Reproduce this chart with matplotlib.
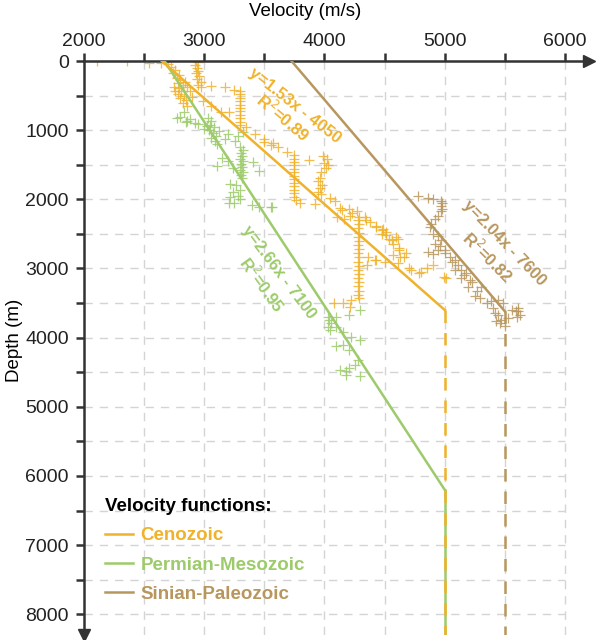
import numpy as np
import matplotlib.pyplot as plt

plt.rcParams['font.family'] = ['Liberation Sans', 'DejaVu Sans']

# colours of the three units
c_ceno = '#F0B22A'
c_perm = '#9DCB6B'
c_sini = '#B8975E'

# scatter data (velocity m/s, depth m)
ceno_v = [2110, 2360, 2540, 2640, 2700,
          2930, 2950, 2920, 2940, 2950, 2930, 2960, 2940, 2970, 2950, 2970,
          2720, 2760, 2740, 2790, 2770, 2800, 2780, 2820, 2790, 2810, 2780, 2830, 2800, 2850, 2820, 2860,
          2750, 2760, 2840, 2860, 2880, 2900,
          2990, 3060, 3060, 3170, 3250, 3140, 3210,
          3295, 3300, 3295, 3300, 3295, 3300, 3295, 3300, 3295, 3300, 3300,
          3350, 3420, 3500, 3570, 3500, 3555, 3610, 3690,
          3745, 3750, 3745, 3750, 3745, 3750, 3745, 3750, 3745, 3750, 3745, 3750, 3745, 3760, 3800,
          3870, 3990, 4020, 4000, 4030, 4010,
          3970, 3960, 3950, 3980, 3960, 3950, 3970, 3925,
          4050, 4090, 4130, 4200, 4270, 4210, 4290, 4340, 4380, 4430, 4490, 4480, 4540, 4570, 4610,
          4620, 4570, 4610, 4100, 4160, 4149, 4232, 4348, 4431, 4515, 4598,
          4280, 4285, 4280, 4285, 4280, 4285, 4280, 4285, 4280, 4285, 4280, 4285, 4280, 4285, 4280,
          4285, 4280, 4285, 4280, 4285,
          4360, 4420, 4500, 4430, 4350, 4630, 4680,
          4080, 4150, 4220, 4210,
          4481, 4515, 4565, 4623, 4665, 4706, 4806, 4997, 5014, 4720, 4790, 4850, 4900]
ceno_d = [0, 0, 30, 30, 50,
          0, 20, 60, 100, 140, 180, 220, 260, 300, 340, 380,
          90, 130, 170, 200, 240, 280, 320, 350, 390, 430, 470, 500, 540, 570, 610, 650,
          380, 440, 300, 380, 440, 520,
          580, 650, 360, 380, 420, 740, 740,
          430, 480, 530, 580, 630, 680, 730, 780, 830, 880, 930,
          960, 1050, 1130, 1180, 1170, 1214, 1238, 1310,
          1360, 1410, 1460, 1510, 1560, 1610, 1660, 1710, 1760, 1810, 1860, 1910, 1960, 2010, 2050,
          1430, 1380, 1420, 1470, 1500, 1550,
          1600, 1690, 1740, 1790, 1840, 1890, 1930, 2070,
          1980, 2030, 2120, 2140, 2170, 2240, 2260, 2260, 2330, 2380, 2430, 2500, 2570, 2640, 2570,
          2710, 2800, 2920, 2260, 2290, 2153, 2197, 2298, 2399, 2471, 2543,
          2300, 2360, 2420, 2480, 2540, 2600, 2660, 2720, 2780, 2840, 2900, 2960, 3020, 3080, 3140,
          3200, 3260, 3320, 3380, 3430,
          2830, 2880, 2900, 2880, 2950, 2830, 2780,
          3500, 3500, 3460, 3550,
          2442, 2514, 2587, 2731, 2832, 2991, 3049, 3121, 3136, 3020, 3070, 3000, 2950]

perm_v = [2770, 2852, 2800, 2829, 2856, 2952, 3020, 2880, 2920,
          3030, 3060, 3050, 3080, 3040, 3070, 3100, 3060, 3090, 3110, 3000, 3120,
          3170, 3253, 3322, 3200, 3280,
          3300, 3320, 3305, 3315, 3300, 3320, 3305, 3315, 3300, 3320, 3305, 3310,
          3103, 3404, 3459, 3150, 3200, 3240,
          3212, 3295, 3212, 3260, 3240, 3280, 3300, 3250,
          3459, 3555, 3400, 3210, 3566,
          4292, 4208, 4028, 4040, 4056, 4030, 4050, 4097, 4097, 4153, 4222, 4292,
          4097, 4153, 4208, 4278, 4250, 4125, 4180, 4208, 4292, 4180]
perm_d = [824, 880, 816, 744, 864, 912, 936, 840, 900,
          820, 870, 920, 960, 1000, 1040, 1080, 1120, 1160, 1200, 980, 1010,
          1128, 1152, 1032, 1060, 1090,
          1250, 1290, 1330, 1370, 1410, 1450, 1490, 1530, 1570, 1610, 1650, 1690,
          1512, 1464, 1584, 1400, 1450, 1550,
          1776, 1872, 1968, 1800, 1900, 1950, 2000, 2050,
          2112, 2112, 2080, 2050, 2110,
          3600, 3672, 3696, 3740, 3790, 3840, 3888, 3696, 3840, 3912, 3984, 4032,
          4128, 4104, 4176, 4320, 4392, 4464, 4488, 4440, 4560, 4536]

sini_v = [4778, 4861, 4903, 4972, 4975, 4970, 4975, 4972, 4944, 4917, 4889, 4875, 4903, 4944,
          4972, 4861, 4903, 4944, 5000, 5042, 5083, 5111, 5139, 5083, 5180, 5139, 5208, 5195,
          5250, 5292, 5305, 5389, 5444, 5486, 5403, 5417, 5430, 5458, 5528, 5500, 5611, 5625,
          4920, 4960, 5000, 5060, 5160, 5230, 5270, 5350, 5560, 5590, 5610, 5440, 5470, 5600]
sini_d = [1952, 1976, 2000, 2024, 2060, 2100, 2135, 2167, 2238, 2286, 2357, 2405, 2500, 2524,
          2595, 2762, 2786, 2738, 2738, 2833, 2881, 2952, 3024, 3024, 3071, 3143, 3167, 3262,
          3405, 3429, 3262, 3476, 3452, 3500, 3571, 3643, 3762, 3786, 3714, 3833, 3571, 3667,
          2650, 2680, 2780, 2900, 3100, 3200, 3330, 3500, 3600, 3620, 3620, 3680, 3740, 3700]

# velocity functions: depth = a*v - b, capped at a constant velocity
ceno_fit = (1.53, 4050, 5000)
perm_fit = (2.66, 7100, 5000)
sini_fit = (2.04, 7600, 5500)
depth_max = 8300

fig = plt.figure(figsize=(5.96, 6.4), dpi=100)
ax = fig.add_axes([84/596, 5/640, 505/596, 574/640])

# grid (dashed, every 500)
for v in np.arange(2500, 6001, 500):
    ax.plot([v, v], [0, depth_max], color='#d4d4d4', lw=1, ls=(0, (6, 5)), zorder=0)
for d in np.arange(500, 8001, 500):
    ax.plot([2000, 6000], [d, d], color='#d4d4d4', lw=1, ls=(0, (6, 5)), zorder=0)

kw = dict(marker='+', ls='none', ms=7.5, mew=0.9, alpha=0.85, zorder=2)
ax.plot(ceno_v, ceno_d, color=c_ceno, **kw)
ax.plot(perm_v, perm_d, color=c_perm, **kw)
ax.plot(sini_v, sini_d, color=c_sini, **kw)

def vfun(fit, color, label, vert_ls):
    a, b, vcap = fit
    dcap = a*vcap - b
    ax.plot([b/a, vcap], [0, dcap], color=color, lw=1.8, label=label, zorder=3)
    ax.plot([vcap, vcap], [dcap, depth_max], color=color, lw=1.8, ls=vert_ls, zorder=3)

vfun(perm_fit, c_perm, 'Permian-Mesozoic', '-')
vfun(ceno_fit, c_ceno, 'Cenozoic', (0, (5, 4)))
vfun(sini_fit, c_sini, 'Sinian-Paleozoic', (0, (5, 4)))

# equations along the lines
tkw = dict(fontsize=12, fontweight='bold', ha='center', va='center', rotation_mode='anchor')
ax.text(3757, 650, 'y=1.53x - 4050', color=c_ceno, rotation=-38, **tkw)
ax.text(3660, 824, 'R$^2$=0.89', color=c_ceno, rotation=-40, **tkw)
ax.text(3617, 3050, 'y=2.66x - 7100', color=c_perm, rotation=-53, **tkw)
ax.text(3483, 3237, 'R$^2$=0.95', color=c_perm, rotation=-54, **tkw)
ax.text(5496, 2630, 'y=2.04x - 7600', color=c_sini, rotation=-46, **tkw)
ax.text(5362, 2832, 'R$^2$=0.82', color=c_sini, rotation=-45, **tkw)

ax.set_xlim(2000, 6200)
ax.set_ylim(depth_max, 0)

# axes: top and left with arrows
for s in ['right', 'bottom']:
    ax.spines[s].set_visible(False)
for s in ['top', 'left']:
    ax.spines[s].set_color('#333333')
    ax.spines[s].set_linewidth(1.8)
ax.plot(1, 1, '>', color='#333333', ms=8, transform=ax.transAxes, clip_on=False)
ax.plot(0, 0, 'v', color='#333333', ms=8, transform=ax.transAxes, clip_on=False)

ax.xaxis.tick_top()
ax.xaxis.set_label_position('top')
ax.set_xticks(np.arange(2000, 6001, 1000))
ax.set_xticks(np.arange(2500, 6001, 1000), minor=True)
ax.set_yticks(np.arange(0, 8001, 1000))
ax.set_yticks(np.arange(500, 8001, 1000), minor=True)
ax.tick_params(which='both', direction='out', length=6, width=1.8, color='#333333',
               labelsize=14, labelcolor='#222222')
ax.tick_params(axis='x', pad=2)
ax.tick_params(axis='y', pad=5)
ax.set_xlabel('Velocity (m/s)', fontsize=13.5, va='center')
ax.set_ylabel('Depth (m)', fontsize=13.5, va='center')
ax.xaxis.set_label_coords(0.438, 1.087)
ax.yaxis.set_label_coords(-0.138, 0.514)

handles, labels = ax.get_legend_handles_labels()
order = [1, 0, 2]
leg = ax.legend([handles[i] for i in order], [labels[i] for i in order],
                title='Velocity functions:', alignment='left', frameon=False,
                loc='upper left', bbox_to_anchor=(88/596, 1-481/640), bbox_transform=fig.transFigure,
                prop={'weight': 'bold', 'size': 13.5}, title_fontproperties={'weight': 'bold', 'size': 13.5},
                labelcolor='linecolor', handlelength=1.5, handletextpad=0.4, labelspacing=0.65)

fig.savefig('out.png', dpi=100)
